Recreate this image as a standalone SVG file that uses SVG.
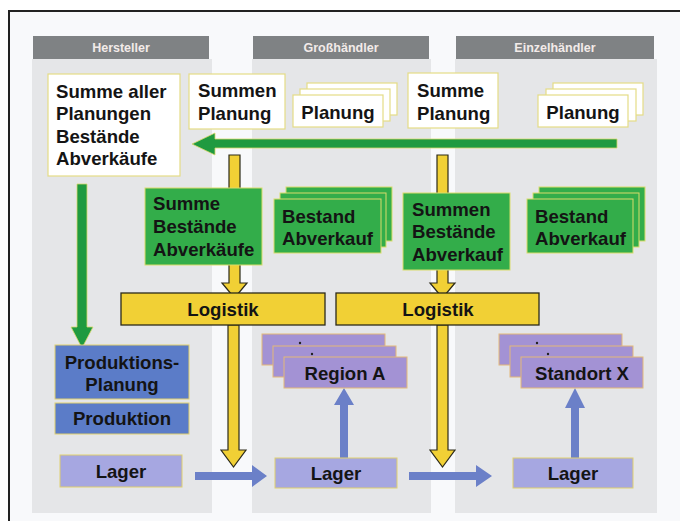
<svg xmlns="http://www.w3.org/2000/svg" width="680" height="521" viewBox="0 0 680 521">
<style>
  text { font-family: "Liberation Sans", Arial, sans-serif; font-weight: bold; fill: #141414; }
  .t { font-size: 18.6px; }
  .hdr { fill: #7f8284; }
  .hdrt { font-size: 12.5px; fill: #f3ebe9; text-anchor: middle; }
  .panel { fill: #e5e6e8; }
  .white { fill: #ffffff; stroke: #e4dc86; stroke-width: 1.2; }
  .green { fill: #33ad4a; stroke: #d9dc6a; stroke-width: 1; }
  .yellow { fill: #f1d035; stroke: #2c2a1a; stroke-width: 1.3; }
  .blue { fill: #5b7cc8; stroke: #e0cf6e; stroke-width: 1; }
  .lav { fill: #a6a7e1; stroke: #e0cf6e; stroke-width: 1; }
  .purple { fill: #a392d4; stroke: #e4b879; stroke-width: 1; }
  .garrow { fill: #1f9a40; stroke: #d8d86a; stroke-width: 0.8; }
  .yarrow { fill: #f1d035; stroke: #2c2a1a; stroke-width: 1.2; }
  .barrow { fill: #6b80c8; stroke: none; }
  .c { text-anchor: middle; }
</style>
<rect x="0" y="0" width="680" height="521" fill="#ffffff"/>
<rect x="9" y="11" width="671" height="510" fill="#f8f9fb"/>
<path d="M9,521 L9,11 L680,11" fill="none" stroke="#222" stroke-width="2"/>

<!-- panels and headers -->
<rect class="panel" x="32" y="59" width="180" height="454"/>
<rect class="panel" x="252" y="59" width="179" height="454"/>
<rect class="panel" x="455" y="59" width="202" height="454"/>
<g id="hdr-hersteller"><rect class="hdr" x="33" y="36" width="176" height="23"/><text class="hdrt" x="121" y="52">Hersteller</text></g>
<g id="hdr-grosshaendler"><rect class="hdr" x="253" y="36" width="176" height="23"/><text class="hdrt" x="341" y="52">Großhändler</text></g>
<g id="hdr-einzelhaendler"><rect class="hdr" x="456" y="36" width="198" height="23"/><text class="hdrt" x="555" y="52">Einzelhändler</text></g>

<!-- connectors drawn beneath nodes -->
<g id="connectors">
  <polygon class="yarrow" points="229,155 240,155 240,283 247,283 234.5,298 222,283 229,283"/>
  <polygon class="yarrow" points="437,155 448,155 448,283 455,283 442.5,298 430,283 437,283"/>
  <polygon class="yarrow" points="228,325 239,325 239,450 246,450 233.5,467 221,450 228,450"/>
  <polygon class="yarrow" points="437,325 448,325 448,450 455,450 442.5,467 430,450 437,450"/>
  <polygon class="garrow" points="617,139 617,148 215,148 215,155 192,144 215,133 215,139"/>
  <polygon class="garrow" points="77,184 87,184 87,327 93,327 82,348 71,327 77,327"/>
  <polygon class="barrow" points="195,472 252,472 252,465 267,476 252,487 252,480 195,480"/>
  <polygon class="barrow" points="409,472 476,472 476,465 492,476 476,487 476,480 409,480"/>
  <polygon class="barrow" points="340,458 340,405 334,405 344,388 354,405 348,405 348,458"/>
  <polygon class="barrow" points="571,458 571,408 565,408 575,388 585,408 579,408 579,458"/>
</g>

<!-- Hersteller -->
<g id="summe-aller">
  <rect class="white" x="48" y="74" width="132" height="102"/>
  <text class="t" x="56" y="98">Summe aller</text>
  <text class="t" x="56" y="120">Planungen</text>
  <text class="t" x="56" y="143">Bestände</text>
  <text class="t" x="56" y="165">Abverkäufe</text>
</g>
<g id="produktionsplanung">
  <rect class="blue" x="55" y="345" width="134" height="54"/>
  <text class="t c" x="122" y="369">Produktions-</text>
  <text class="t c" x="122" y="391">Planung</text>
</g>
<g id="produktion">
  <rect class="blue" x="55" y="403" width="134" height="31"/>
  <text class="t c" x="122" y="425">Produktion</text>
</g>
<g id="lager-hersteller">
  <rect class="lav" x="60" y="455" width="122" height="32"/>
  <text class="t c" x="121" y="478">Lager</text>
</g>

<!-- Großhändler -->
<g id="summen-planung-gh">
  <rect class="white" x="189" y="74" width="96" height="55"/>
  <text class="t" x="198" y="97">Summen</text>
  <text class="t" x="198" y="120">Planung</text>
</g>
<g id="planung-gh">
  <rect class="white" x="307" y="83" width="90" height="32"/>
  <rect class="white" x="300" y="89" width="90" height="32"/>
  <rect class="white" x="293" y="95" width="90" height="32"/>
  <text class="t c" x="338" y="119">Planung</text>
</g>
<g id="summe-bestaende-gh">
  <rect class="green" x="145" y="188" width="117" height="77"/>
  <text class="t" x="153" y="210">Summe</text>
  <text class="t" x="153" y="233">Bestände</text>
  <text class="t" x="153" y="256">Abverkäufe</text>
</g>
<g id="bestand-gh">
  <rect class="green" x="286" y="187" width="106" height="54"/>
  <rect class="green" x="280" y="193" width="106" height="54"/>
  <rect class="green" x="274" y="199" width="107" height="54"/>
  <text class="t" x="282" y="223">Bestand</text>
  <text class="t" x="282" y="245">Abverkauf</text>
</g>
<g id="logistik-gh">
  <rect class="yellow" x="121" y="293" width="204" height="32"/>
  <text class="t c" x="223" y="316">Logistik</text>
</g>
<g id="region-a">
  <rect class="purple" x="262" y="334" width="123" height="31"/>
  <rect class="purple" x="273" y="346" width="123" height="31"/>
  <rect class="purple" x="284" y="357" width="123" height="31"/>
  <circle cx="300" cy="343" r="1.2" fill="#222"/>
  <circle cx="312" cy="354" r="1.2" fill="#222"/>
  <text class="t c" x="345" y="380">Region A</text>
</g>
<g id="lager-gh">
  <rect class="lav" x="275" y="458" width="122" height="30"/>
  <text class="t c" x="336" y="480">Lager</text>
</g>

<!-- Einzelhändler -->
<g id="summe-planung-eh">
  <rect class="white" x="408" y="73" width="90" height="55"/>
  <text class="t" x="417" y="97">Summe</text>
  <text class="t" x="417" y="120">Planung</text>
</g>
<g id="planung-eh">
  <rect class="white" x="553" y="83" width="90" height="32"/>
  <rect class="white" x="546" y="89" width="90" height="32"/>
  <rect class="white" x="538" y="95" width="90" height="32"/>
  <text class="t c" x="583" y="119">Planung</text>
</g>
<g id="summen-bestaende-eh">
  <rect class="green" x="403" y="193" width="107" height="77"/>
  <text class="t" x="412" y="216">Summen</text>
  <text class="t" x="412" y="238">Bestände</text>
  <text class="t" x="412" y="261">Abverkauf</text>
</g>
<g id="bestand-eh">
  <rect class="green" x="539" y="187" width="106" height="54"/>
  <rect class="green" x="533" y="193" width="106" height="54"/>
  <rect class="green" x="527" y="199" width="106" height="54"/>
  <text class="t" x="535" y="223">Bestand</text>
  <text class="t" x="535" y="245">Abverkauf</text>
</g>
<g id="logistik-eh">
  <rect class="yellow" x="336" y="293" width="203" height="32"/>
  <text class="t c" x="438" y="316">Logistik</text>
</g>
<g id="standort-x">
  <rect class="purple" x="499" y="334" width="123" height="31"/>
  <rect class="purple" x="510" y="346" width="123" height="31"/>
  <rect class="purple" x="521" y="357" width="122" height="31"/>
  <circle cx="537" cy="343" r="1.2" fill="#222"/>
  <circle cx="548" cy="354" r="1.2" fill="#222"/>
  <text class="t c" x="582" y="380">Standort X</text>
</g>
<g id="lager-eh">
  <rect class="lav" x="513" y="458" width="120" height="30"/>
  <text class="t c" x="573" y="480">Lager</text>
</g>
</svg>
